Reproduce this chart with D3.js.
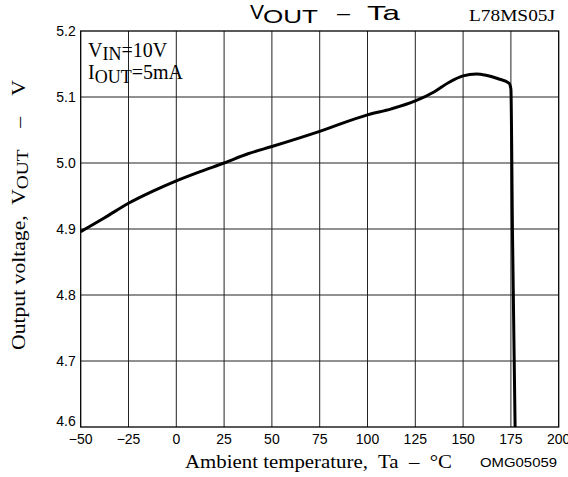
<!DOCTYPE html>
<html>
<head>
<meta charset="utf-8">
<script src="https://cdn.jsdelivr.net/npm/d3@7"></script>
<style>
  body { margin: 0; background: #fff; }
  svg { display: block; }
  text { white-space: pre; }
</style>
</head>
<body>
<div id="sketchpad"></div>
<script>
// Ta in degC, Vout in V
let temps = [-50, -37.5, -25, -12.5, 0, 12.5, 25, 37.5, 50, 75, 100, 112.5, 125, 135, 142.5, 150, 157, 162, 168, 174, 175, 175.8, 177.2]
let volts = [4.896, 4.917, 4.939, 4.957, 4.973, 4.987, 5.0, 5.014, 5.025, 5.048, 5.073, 5.082, 5.094, 5.108, 5.122, 5.132, 5.135, 5.133, 5.128, 5.121, 5.112, 4.9, 4.6]

let xTicks = [-50, -25, 0, 25, 50, 75, 100, 125, 150, 175, 200]
let yTicks = [4.6, 4.7, 4.8, 4.9, 5.0, 5.1, 5.2]

let svg = d3.select("#sketchpad")
  .append("svg")
  .attr("width", 568)
  .attr("height", 477)

let x = d3.scaleLinear().domain([-50, 200]).range([80.7, 558.7])
let y = d3.scaleLinear().domain([4.6, 5.2]).range([427, 31])

let sans = "'Liberation Sans', Arial, sans-serif"
let serif = "'Liberation Serif', 'Times New Roman', serif"

// grid
svg.append("g")
  .selectAll("line")
  .data(xTicks.slice(1, -1))
  .join("line")
  .attr("x1", d => x(d)).attr("x2", d => x(d))
  .attr("y1", y(5.2)).attr("y2", y(4.6))
  .attr("stroke", "#222")
  .attr("stroke-width", 1)

svg.append("g")
  .selectAll("line")
  .data(yTicks.slice(1, -1))
  .join("line")
  .attr("x1", x(-50)).attr("x2", x(200))
  .attr("y1", d => y(d)).attr("y2", d => y(d))
  .attr("stroke", "#222")
  .attr("stroke-width", 1)

svg.append("rect")
  .attr("x", x(-50))
  .attr("y", y(5.2))
  .attr("width", x(200) - x(-50))
  .attr("height", y(4.6) - y(5.2))
  .attr("fill", "none")
  .attr("stroke", "#000")
  .attr("stroke-width", 1.3)

// tick labels
svg.append("g")
  .selectAll("text")
  .data(yTicks)
  .join("text")
  .attr("x", x(-50) - 5)
  .attr("y", d => y(d) + (d == 4.6 ? -1 : 5))
  .attr("text-anchor", "end")
  .attr("font-family", sans)
  .attr("font-size", 14)
  .text(d => d.toFixed(1))

svg.append("g")
  .selectAll("text")
  .data(xTicks)
  .join("text")
  .attr("x", d => x(d))
  .attr("y", 444)
  .attr("text-anchor", "middle")
  .attr("font-family", sans)
  .attr("font-size", 14)
  .text(d => d < 0 ? "\u2212" + Math.abs(d) : d)

// curve
let line = d3.line()
  .x((d, i) => x(temps[i]))
  .y(d => y(d))
  .curve(d3.curveMonotoneX)

svg.append("path")
  .attr("d", line(volts))
  .attr("fill", "none")
  .attr("stroke", "#000")
  .attr("stroke-width", 3)
  .attr("stroke-linejoin", "round")

// title
svg.append("text").attr("x", 250).attr("y", 19)
  .attr("font-family", sans).attr("font-size", 20)
  .attr("textLength", 14).attr("lengthAdjust", "spacingAndGlyphs")
  .text("V")
svg.append("text").attr("x", 263).attr("y", 23)
  .attr("font-family", sans).attr("font-size", 18)
  .attr("textLength", 55).attr("lengthAdjust", "spacingAndGlyphs")
  .text("OUT")
svg.append("text").attr("x", 337).attr("y", 20)
  .attr("font-family", sans).attr("font-size", 20)
  .attr("textLength", 13).attr("lengthAdjust", "spacingAndGlyphs")
  .text("\u2013")
svg.append("text").attr("x", 367).attr("y", 20)
  .attr("font-family", sans).attr("font-size", 21)
  .attr("textLength", 33).attr("lengthAdjust", "spacingAndGlyphs")
  .text("Ta")

svg.append("text").attr("x", 469).attr("y", 21)
  .attr("font-family", serif).attr("font-size", 16)
  .attr("textLength", 86).attr("lengthAdjust", "spacingAndGlyphs")
  .text("L78MS05J")

// conditions
let c1 = svg.append("text").attr("x", 88).attr("y", 57)
  .attr("font-family", serif).attr("font-size", 20)
c1.append("tspan").text("V")
c1.append("tspan").attr("dy", 3).attr("font-size", 18).text("IN")
c1.append("tspan").attr("dy", -3).text("=10V")

let c2 = svg.append("text").attr("x", 88).attr("y", 79)
  .attr("font-family", serif).attr("font-size", 20)
c2.append("tspan").text("I")
c2.append("tspan").attr("dy", 4).attr("font-size", 18).text("OUT")
c2.append("tspan").attr("dy", -4).text("=5mA")

// axis titles
svg.append("text")
  .attr("x", 318.5).attr("y", 468)
  .attr("text-anchor", "middle")
  .attr("font-family", serif).attr("font-size", 19)
  .attr("textLength", 267).attr("lengthAdjust", "spacingAndGlyphs")
  .text("Ambient temperature,  Ta  \u2013  \u00B0C")

svg.append("text").attr("x", 480).attr("y", 467)
  .attr("font-family", sans).attr("font-size", 13)
  .attr("textLength", 77).attr("lengthAdjust", "spacingAndGlyphs")
  .text("OMG05059")

let yl = svg.append("text")
  .attr("transform", "translate(25,215) rotate(-90)")
  .attr("text-anchor", "middle")
  .attr("font-family", serif).attr("font-size", 19)
  .attr("textLength", 270).attr("lengthAdjust", "spacingAndGlyphs")
yl.append("tspan").text("Output voltage,  V")
yl.append("tspan").attr("dy", 3).attr("font-size", 17).text("OUT")
yl.append("tspan").attr("dy", -3).text("    \u2013    V")
</script>
</body>
</html>
